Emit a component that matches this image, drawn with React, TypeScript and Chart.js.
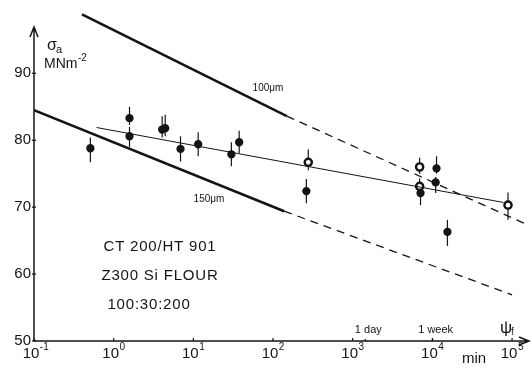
import React, { useEffect, useRef } from "react";
import { Chart, registerables } from "chart.js";

Chart.register(...registerables);

// Measured points (time to failure in min, stress in MN m^-2)
const pointTimes = [0.51, 1.58, 1.58, 4.06, 4.43, 6.9, 11.5, 30, 37.6, 277, 262, 6920, 6920, 7100, 11270, 11000, 15450, 89000];
const pointStress = [78.8, 83.3, 80.6, 81.6, 81.8, 78.7, 79.4, 77.9, 79.7, 76.7, 72.4, 76.0, 73.1, 72.1, 75.8, 73.7, 66.3, 70.3];
const pointErrUp = [1.6, 1.7, 1.4, 2.0, 2.0, 1.9, 1.8, 1.8, 1.7, 1.9, 1.8, 1.4, 1.2, 0.8, 1.8, 0.8, 1.8, 1.9];
const pointErrDown = [2.1, 1.0, 1.6, 1.2, 1.2, 1.9, 1.8, 1.8, 1.6, 1.2, 1.8, 1.0, 0.8, 1.8, 0.8, 1.6, 2.1, 2.2];
const pointHollow = [false, false, false, false, false, false, false, false, false, true, false, true, true, false, false, false, false, true];

// Regression line through the data
const fitTimes = [0.61, 78000];
const fitStress = [81.9, 70.7];

// Predicted lines for 100 um and 150 um flaws
const line100SolidTimes = [0.40, 149];
const line100SolidStress = [98.8, 83.6];
const line100DashTimes = [149, 141000];
const line100DashStress = [83.6, 67.6];
const line150SolidTimes = [0.1, 138];
const line150SolidStress = [84.5, 69.4];
const line150DashTimes = [138, 100000];
const line150DashStress = [69.4, 56.9];

// Axis ticks
const xTickValues = [0.1, 1, 10, 100, 1000, 10000, 100000];
const xTickExponents = ["-1", "0", "1", "2", "3", "4", "5"];
const yTickValues = [50, 60, 70, 80, 90];
const timeMarkValues = [1440, 10080];
const timeMarkLabels = ["1 day", "1 week"];

const FONT = "'Liberation Sans', 'DejaVu Sans', sans-serif";
const INK = "#141414";

const toXY = (xs: number[], ys: number[]) => xs.map((x, i) => ({ x, y: ys[i] }));

const decorPlugin = {
  id: "decor",
  beforeDatasetsDraw(chart: any) {
    const ctx = chart.ctx;
    const xs = chart.scales.x;
    const ys = chart.scales.y;
    ctx.save();
    ctx.strokeStyle = INK;
    ctx.lineWidth = 1.2;
    for (let i = 0; i < pointTimes.length; i++) {
      const px = xs.getPixelForValue(pointTimes[i]);
      ctx.beginPath();
      ctx.moveTo(px, ys.getPixelForValue(pointStress[i] + pointErrUp[i]));
      ctx.lineTo(px, ys.getPixelForValue(pointStress[i] - pointErrDown[i]));
      ctx.stroke();
    }
    ctx.restore();
  },
  afterDraw(chart: any) {
    const ctx = chart.ctx;
    const xs = chart.scales.x;
    const ys = chart.scales.y;
    const x0 = xs.getPixelForValue(0.1);
    const y0 = ys.getPixelForValue(50);
    ctx.save();
    ctx.strokeStyle = INK;
    ctx.fillStyle = INK;
    ctx.lineWidth = 1.5;
    // axes
    const yTop = 27;
    const xRight = 529;
    ctx.beginPath();
    ctx.moveTo(x0, y0);
    ctx.lineTo(x0, yTop);
    ctx.moveTo(x0 - 4, yTop + 10);
    ctx.lineTo(x0, yTop);
    ctx.lineTo(x0 + 4, yTop + 10);
    ctx.moveTo(x0, y0);
    ctx.lineTo(xRight, y0);
    ctx.moveTo(xRight - 10, y0 - 4);
    ctx.lineTo(xRight, y0);
    ctx.lineTo(xRight - 10, y0 + 4);
    ctx.stroke();
    // y ticks + labels
    ctx.lineWidth = 1.2;
    ctx.font = `15px ${FONT}`;
    ctx.textAlign = "right";
    ctx.textBaseline = "middle";
    yTickValues.forEach((v) => {
      const py = ys.getPixelForValue(v);
      ctx.beginPath();
      ctx.moveTo(x0 - 2, py);
      ctx.lineTo(x0 + 2, py);
      ctx.stroke();
      ctx.fillText(String(v), x0 - 3, py);
    });
    // x ticks + labels
    xTickValues.forEach((v, i) => {
      const px = xs.getPixelForValue(v);
      ctx.beginPath();
      ctx.moveTo(px, y0);
      ctx.lineTo(px, y0 - 3);
      ctx.stroke();
      ctx.font = `15px ${FONT}`;
      ctx.textAlign = "center";
      ctx.textBaseline = "alphabetic";
      const base = "10";
      const w = ctx.measureText(base).width;
      const bx = px - 3;
      ctx.fillText(base, bx, y0 + 17);
      ctx.font = `10px ${FONT}`;
      ctx.textAlign = "left";
      ctx.fillText(xTickExponents[i], bx + w / 2 + 0.5, y0 + 9);
    });
    // time marks
    ctx.font = `11px ${FONT}`;
    ctx.textAlign = "center";
    ctx.textBaseline = "alphabetic";
    timeMarkValues.forEach((v, i) => {
      const px = xs.getPixelForValue(v);
      ctx.beginPath();
      ctx.moveTo(px, y0);
      ctx.lineTo(px, y0 - 2);
      ctx.stroke();
      ctx.fillText(timeMarkLabels[i], px + 3, y0 - 8);
    });
    // axis titles
    ctx.font = `15px ${FONT}`;
    ctx.textAlign = "left";
    ctx.fillText("min", 462, 363);
    ctx.font = `17px ${FONT}`;
    ctx.fillText("ψ", 500, 333);
    ctx.font = `10px ${FONT}`;
    ctx.fillText("f", 511, 335);
    ctx.font = `16px ${FONT}`;
    ctx.fillText("σ", 47, 50);
    ctx.font = `11px ${FONT}`;
    ctx.fillText("a", 56, 53);
    ctx.font = `14px ${FONT}`;
    ctx.fillText("MNm", 44, 68);
    ctx.font = `10px ${FONT}`;
    ctx.fillText("-2", 78, 61);
    // line labels
    ctx.font = `10px ${FONT}`;
    ctx.textAlign = "center";
    ctx.fillText("100μm", 268, 91);
    ctx.fillText("150μm", 209, 202);
    // material text
    ctx.font = `15px ${FONT}`;
    (ctx as any).letterSpacing = "0.8px";
    ctx.fillText("CT 200/HT 901", 160, 251);
    ctx.fillText("Z300 Si FLOUR", 160, 280);
    ctx.fillText("100:30:200", 149, 309);
    ctx.restore();
  },
};

export default function App() {
  const ref = useRef<HTMLCanvasElement>(null);
  useEffect(() => {
    if (!ref.current) return;
    const thick = { borderColor: INK, borderWidth: 2.6, pointRadius: 0, showLine: true, fill: false, tension: 0 };
    const dashed = { borderColor: INK, borderWidth: 1.3, borderDash: [8, 6], pointRadius: 0, showLine: true, fill: false, tension: 0 };
    const chart = new Chart(ref.current, {
      type: "scatter",
      data: {
        datasets: [
          { ...thick, data: toXY(line100SolidTimes, line100SolidStress) },
          { ...dashed, data: toXY(line100DashTimes, line100DashStress) },
          { ...thick, data: toXY(line150SolidTimes, line150SolidStress) },
          { ...dashed, data: toXY(line150DashTimes, line150DashStress) },
          { borderColor: INK, borderWidth: 1, pointRadius: 0, showLine: true, fill: false, data: toXY(fitTimes, fitStress) },
          {
            data: toXY(pointTimes, pointStress),
            showLine: false,
            pointRadius: pointHollow.map((h) => (h ? 3.6 : 3.4)),
            pointBorderWidth: pointHollow.map((h) => (h ? 2.4 : 1.5)),
            pointBorderColor: INK,
            pointBackgroundColor: pointHollow.map((h) => (h ? "#ffffff" : INK)),
          } as any,
        ],
      },
      options: {
        responsive: false,
        animation: false,
        devicePixelRatio: 1,
        layout: { padding: { left: 34, right: 3, top: 6, bottom: 28 } },
        plugins: { legend: { display: false }, tooltip: { enabled: false } },
        scales: {
          x: { type: "logarithmic", min: 0.1, max: Math.pow(10, 5.17), display: false },
          y: { type: "linear", min: 50, max: 100, display: false },
        },
      } as any,
      plugins: [decorPlugin],
    });
    return () => chart.destroy();
  }, []);
  return (
    <div style={{ position: "fixed", left: 0, top: 0, width: 532, height: 369, background: "#fff" }}>
      <canvas ref={ref} width={532} height={369} />
    </div>
  );
}
